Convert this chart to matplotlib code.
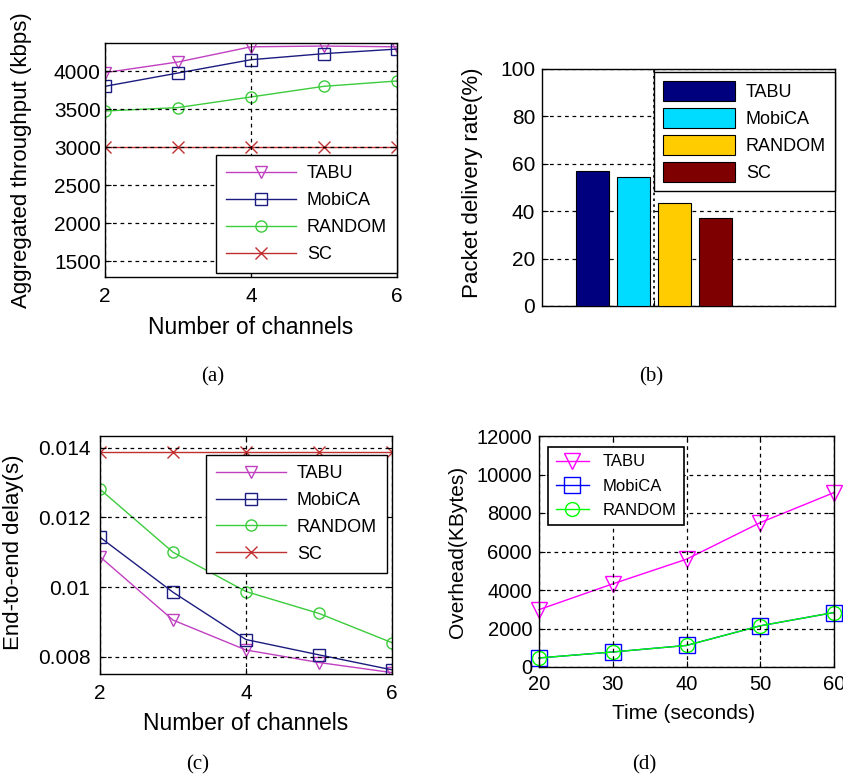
import numpy as np
import matplotlib.pyplot as plt

# Data ----------------------------------------------------------------------------------------------------------------
channels = [2, 3, 4, 5, 6]
thr_tabu = [3980, 4120, 4320, 4330, 4320]
thr_mobica = [3800, 3975, 4150, 4230, 4290]
thr_random = [3475, 3520, 3660, 3800, 3870]
thr_sc = [3000, 3000, 3000, 3000, 3000]

pdr_names = ["TABU", "MobiCA", "RANDOM", "SC"]
pdr_values = [57.0, 54.5, 43.3, 37.2]

delay_tabu = [0.01087, 0.00905, 0.00819, 0.00783, 0.00754]
delay_mobica = [0.01143, 0.00985, 0.00849, 0.00805, 0.00762]
delay_random = [0.01281, 0.01100, 0.00987, 0.00924, 0.00840]
delay_sc = [0.01389, 0.01389, 0.01389, 0.01389, 0.01389]

time_s = [20, 30, 40, 50, 60]
ovh_tabu = [2980, 4320, 5600, 7500, 9060]
ovh_mobica = [470, 780, 1120, 2140, 2830]
ovh_random = [470, 780, 1120, 2140, 2830]

# Styles --------------------------------------------------------------------------------------------------------------
plt.rcParams['font.family'] = ['Liberation Sans', 'DejaVu Sans']
W, H = 843, 782
c_tabu = "#c040c0"
c_mob = "#1c1c80"
c_rand = "#3ccc3c"
c_sc = "#c03030"
grid_kw = dict(color="black", linestyle=(0, (3, 3)), linewidth=0.9)

fig = plt.figure(figsize=(W / 100, H / 100), dpi=100)


def px_axes(x0, y0, x1, y1):
    return fig.add_axes([x0 / W, 1 - y1 / H, (x1 - x0) / W, (y1 - y0) / H])


def style(ax, tick_size, xpad, ypad):
    ax.tick_params(direction="in", length=4, labelsize=tick_size, top=True, right=True)
    ax.tick_params(axis="x", pad=xpad)
    ax.tick_params(axis="y", pad=ypad)
    for s in ax.spines.values():
        s.set_linewidth(1.0)
    ax.grid(True, **grid_kw)
    ax.set_axisbelow(False)


def leg_style():
    return dict(fancybox=False, framealpha=1, edgecolor="black", borderpad=0.55,
                labelspacing=0.55, handlelength=3.9, handletextpad=0.6, borderaxespad=0)


# (a) throughput ------------------------------------------------------------------------------------------------------
ax = px_axes(105, 43, 397, 277)
ax.plot(channels, thr_tabu, marker="v", color=c_tabu, mfc="none", ms=8, lw=1, label="TABU")
ax.plot(channels, thr_mobica, marker="s", color=c_mob, mfc="none", ms=8, lw=1, label="MobiCA")
ax.plot(channels, thr_random, marker="o", color=c_rand, mfc="none", ms=8, lw=1, label="RANDOM")
ax.plot(channels, thr_sc, marker="x", color=c_sc, ms=8, lw=1, label="SC")
ax.set_xlim(2, 6)
ax.set_ylim(1290, 4370)
ax.set_xticks([2, 4, 6])
ax.set_yticks([1500, 2000, 2500, 3000, 3500, 4000])
style(ax, 15, 7, 3)
ax.set_ylabel("Aggregated throughput (kbps)", fontsize=16)
ax.yaxis.set_label_coords(-0.25, 0.5)
ax.set_xlabel("Number of channels", fontsize=16.5)
ax.xaxis.set_label_coords(0.5, -0.165)
leg = ax.legend(loc="lower right", bbox_to_anchor=(397 / W, 1 - 273 / H), bbox_transform=fig.transFigure,
                fontsize=13, **leg_style())
leg.get_frame().set_linewidth(1.0)
fig.text(213 / W, 1 - 377 / H, "(a)", family="Liberation Serif", fontsize=15, ha="center", va="center")

# (b) packet delivery rate --------------------------------------------------------------------------------------------
ax = px_axes(542, 69, 835, 306)
bar_colors = ["#00007f", "#00dcff", "#ffcc00", "#7f0000"]
offsets = [-0.3, -0.1, 0.1, 0.3]
for name, val, col, off in zip(pdr_names, pdr_values, bar_colors, offsets):
    ax.bar(off, val, width=0.16, color=col, edgecolor="black", linewidth=0.8, label=name, zorder=3)
ax.set_xlim(-0.548, 0.883)
ax.set_ylim(0, 100)
ax.set_xticks([0])
ax.set_xticklabels([""])
ax.set_yticks([0, 20, 40, 60, 80, 100])
style(ax, 15, 6, 5)
ax.grid(False, axis="x")
ax.axvline(0, color="black", linestyle=(0, (1.5, 2)), linewidth=1.2, zorder=4)
ax.set_ylabel("Packet delivery rate(%)", fontsize=16)
ax.yaxis.set_label_coords(-0.2, 0.52)
leg = ax.legend(loc="upper right", bbox_to_anchor=(835 / W, 1 - 72 / H), bbox_transform=fig.transFigure,
                fontsize=13, fancybox=False, framealpha=1, edgecolor="black", borderpad=0.5,
                labelspacing=0.4, handlelength=4.0, handleheight=1.3, handletextpad=0.6, borderaxespad=0)
leg.get_frame().set_linewidth(1.0)
leg.set_zorder(6)
fig.text(651 / W, 1 - 377 / H, "(b)", family="Liberation Serif", fontsize=15, ha="center", va="center")

# (c) end-to-end delay ------------------------------------------------------------------------------------------------
ax = px_axes(100, 436, 392, 674)
ax.plot(channels, delay_tabu, marker="v", color=c_tabu, mfc="none", ms=8, lw=1, label="TABU")
ax.plot(channels, delay_mobica, marker="s", color=c_mob, mfc="none", ms=8, lw=1, label="MobiCA")
ax.plot(channels, delay_random, marker="o", color=c_rand, mfc="none", ms=8, lw=1, label="RANDOM")
ax.plot(channels, delay_sc, marker="x", color=c_sc, ms=8, lw=1, label="SC")
ax.set_xlim(2, 6)
ax.set_ylim(0.0075, 0.01434)
ax.set_xticks([2, 4, 6])
ax.set_yticks([0.008, 0.010, 0.012, 0.014])
ax.set_yticklabels(["0.008", "0.01", "0.012", "0.014"])
style(ax, 15, 7, 7)
ax.set_ylabel("End-to-end delay(s)", fontsize=16)
ax.yaxis.set_label_coords(-0.26, 0.51)
ax.set_xlabel("Number of channels", fontsize=16.5)
ax.xaxis.set_label_coords(0.5, -0.16)
leg = ax.legend(loc="upper right", bbox_to_anchor=(387 / W, 1 - 455 / H), bbox_transform=fig.transFigure,
                fontsize=13, **leg_style())
leg.get_frame().set_linewidth(1.0)
fig.text(198 / W, 1 - 765 / H, "(c)", family="Liberation Serif", fontsize=15, ha="center", va="center")

# (d) overhead --------------------------------------------------------------------------------------------------------
ax = px_axes(539, 436, 834, 667)
ax.plot(time_s, ovh_tabu, marker="v", color="#ff00ff", mfc="none", ms=11, lw=1, label="TABU")
ax.plot(time_s, ovh_mobica, marker="s", color="#0000ff", mfc="none", ms=11, lw=1, label="MobiCA")
ax.plot(time_s, ovh_random, marker="o", color="#00ff00", mfc="none", ms=10, lw=1, label="RANDOM")
ax.set_xlim(20, 60)
ax.set_ylim(0, 12000)
ax.set_xticks([20, 30, 40, 50, 60])
ax.set_yticks(np.arange(0, 12001, 2000))
style(ax, 14.5, 6, 5)
ax.set_ylabel("Overhead(KBytes)", fontsize=15)
ax.yaxis.set_label_coords(-0.245, 0.5)
ax.set_xlabel("Time (seconds)", fontsize=15)
ax.xaxis.set_label_coords(0.49, -0.16)
leg = ax.legend(loc="upper left", bbox_to_anchor=(548 / W, 1 - 447 / H), bbox_transform=fig.transFigure,
                fontsize=12, fancybox=False, framealpha=1, edgecolor="black", borderpad=0.45,
                labelspacing=0.55, handlelength=2.0, handletextpad=0.8, borderaxespad=0)
leg.get_frame().set_linewidth(1.2)
for line in ax.get_lines():
    line.set_clip_on(False)
fig.text(644 / W, 1 - 765 / H, "(d)", family="Liberation Serif", fontsize=15, ha="center", va="center")

fig.savefig("out.png", dpi=100)
